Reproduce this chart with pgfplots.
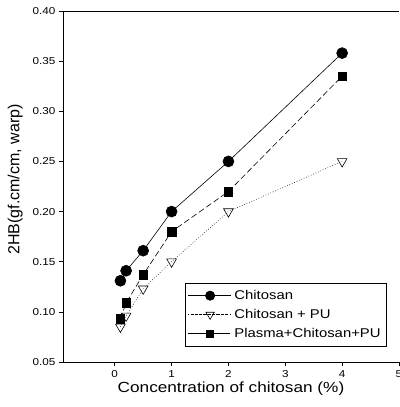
\documentclass[border=0pt]{standalone}
\usepackage{pgfplots}
\pgfplotsset{compat=1.18}
\usepackage{fontspec}
\setmainfont{Liberation Sans}[FakeStretch=1.17]
\newfontfamily\plainsans{Liberation Sans}
\begin{document}
\begin{tikzpicture}
\begin{axis}[name=ax,
  scale only axis, width=336pt, height=351pt,
  xmin=-0.91, xmax=5, ymin=0.05, ymax=0.40,
  axis lines*=left,
  axis line style={line width=0.8pt},
  tick align=outside, major tick length=4pt,
  tick style={line width=0.6pt, black},
  xtick={0,1,2,3,4,5}, ytick={0.05,0.10,...,0.41},
  /pgf/number format/assume math mode=true,
  yticklabel style={/pgf/number format/fixed, /pgf/number format/fixed zerofill, /pgf/number format/precision=2, font=\fontsize{10}{12}\selectfont},
  xticklabel style={font=\fontsize{10}{12}\selectfont, yshift=-1pt},
  xlabel={Concentration of chitosan (\%)},
  ylabel={2HB(gf.cm/cm, warp)},
  xlabel style={font=\fontsize{14.7}{17}\selectfont, at={(axis description cs:0.5,-0.0883)}, anchor=base},
  ylabel style={font=\plainsans\fontsize{16}{18}\selectfont, at={(axis description cs:-0.142,0.52)}, anchor=center},
  legend style={at={(axis description cs:0.964,0.045)}, anchor=south east, draw=black, line width=0.6pt, font=\fontsize{12.7}{15}\selectfont, row sep=0.5pt, inner sep=3pt,
    nodes={text height=10pt, text depth=2.5pt, inner sep=3pt}},
  legend cell align=left,
  legend image code/.code={
    \path (-4pt,0pt) -- (39pt,0pt);
    \draw[#1, mark repeat=2, mark phase=2, sharp plot, /tikz/every mark/.append style={scale=0.85}] plot coordinates {(0pt,0pt) (18pt,0pt) (36pt,0pt)};
  },
]
\draw[line width=0.8pt] (rel axis cs:0,1) -- (rel axis cs:1,1);
\addplot[black, line width=0.6pt, mark=*, mark size=5.5pt, mark options={solid}] coordinates {
(0.1,0.131) (0.2,0.141) (0.5,0.161) (1,0.200) (2,0.250) (4,0.358)};
\addlegendentry{Chitosan}
\addplot[black, line width=0.6pt, dotted, mark=triangle, mark size=5.6pt, mark options={solid, rotate=180, fill=white}] coordinates {
(0.1,0.085) (0.2,0.096) (0.5,0.123) (1,0.150) (2,0.200) (4,0.250)};
\addlegendentry{Chitosan + PU}
\addplot[black, line width=0.6pt, dash pattern=on 6pt off 3pt, mark=square*, mark size=4.3pt, mark options={solid}] coordinates {
(0.1,0.093) (0.2,0.109) (0.5,0.137) (1,0.180) (2,0.220) (4,0.335)};
\addlegendentry{Plasma+Chitosan+PU}
\end{axis}
\pgfresetboundingbox
\path[use as bounding box] ([xshift=-63pt,yshift=-45pt]ax.south west) rectangle ([yshift=11pt]ax.north east);
\end{tikzpicture}
\end{document}
